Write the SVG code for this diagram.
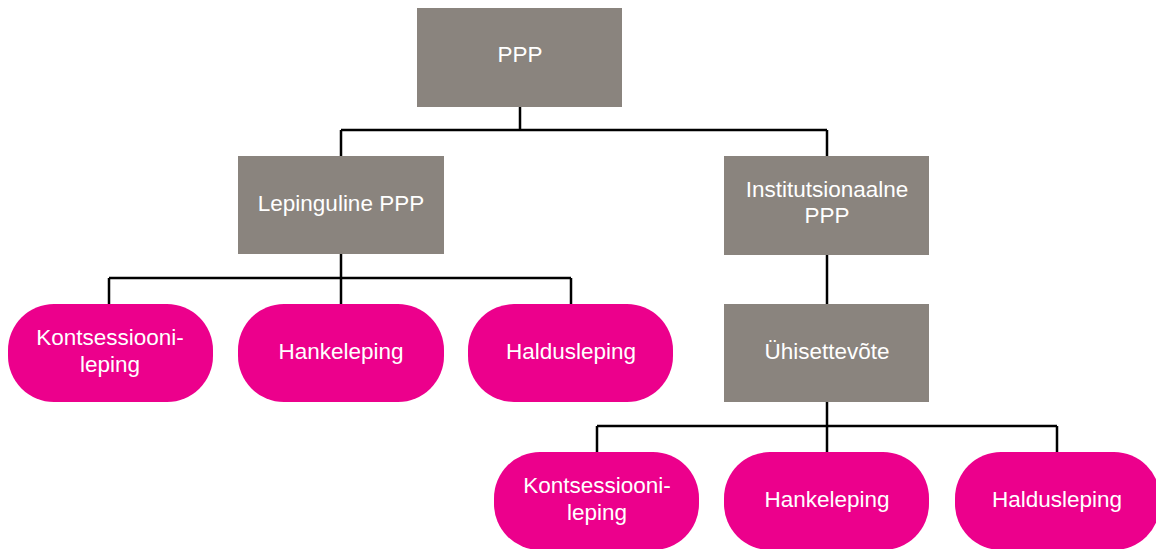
<svg xmlns="http://www.w3.org/2000/svg" width="1156" height="549" viewBox="0 0 1156 549">
<style>
.box{fill:#8a847e}
.pill{fill:#ec008c}
.t{font-family:"Liberation Sans",Arial,sans-serif;font-size:22.5px;fill:#ffffff;text-anchor:middle;dominant-baseline:central}
.c{fill:none;stroke:#000000;stroke-width:2.5}
</style>
<rect width="1156" height="549" fill="#ffffff"/>
<g id="connectors">
<path class="c" d="M520 107V130M341 130H827M341 130V156M827 130V156"/>
<path class="c" d="M341 254V278M109 278H571M109 278V304M341 278V304M571 278V304"/>
<path class="c" d="M827 255V304"/>
<path class="c" d="M827 402V426M597 426H1057M597 426V452M827 426V452M1057 426V452"/>
</g>
<g id="ppp"><rect class="box" x="417" y="8" width="205" height="99"/><text class="t" x="520" y="54">PPP</text></g>
<g id="lepinguline"><rect class="box" x="238" y="156" width="206" height="98"/><text class="t" x="341" y="203">Lepinguline PPP</text></g>
<g id="institutsionaalne"><rect class="box" x="724" y="156" width="205" height="99"/><text class="t" x="827" y="189">Institutsionaalne</text><text class="t" x="827" y="215">PPP</text></g>
<g id="uhisettevote"><rect class="box" x="724" y="304" width="205" height="98"/><text class="t" x="827" y="351">Ühisettevõte</text></g>
<g id="kontsessiooni1"><rect class="pill" x="8" y="304" width="205" height="98" rx="46"/><text class="t" x="110" y="337">Kontsessiooni-</text><text class="t" x="110" y="364">leping</text></g>
<g id="hankeleping1"><rect class="pill" x="238" y="304" width="206" height="98" rx="46"/><text class="t" x="341" y="351">Hankeleping</text></g>
<g id="haldusleping1"><rect class="pill" x="468" y="304" width="205" height="98" rx="46"/><text class="t" x="571" y="351">Haldusleping</text></g>
<g id="kontsessiooni2"><rect class="pill" x="494" y="452" width="205" height="98" rx="46"/><text class="t" x="597" y="485">Kontsessiooni-</text><text class="t" x="597" y="512">leping</text></g>
<g id="hankeleping2"><rect class="pill" x="724" y="452" width="205" height="98" rx="46"/><text class="t" x="827" y="499">Hankeleping</text></g>
<g id="haldusleping2"><rect class="pill" x="955" y="452" width="205" height="98" rx="46"/><text class="t" x="1057" y="499">Haldusleping</text></g>
</svg>
